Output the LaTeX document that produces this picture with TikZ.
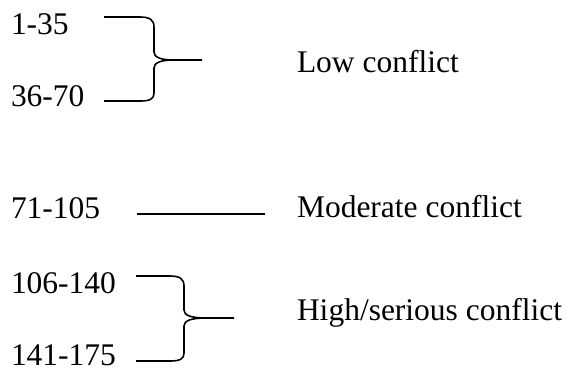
\documentclass[tikz,border=0pt]{standalone}
\usepackage{fontspec}
\setmainfont{Liberation Serif}
\begin{document}
\begin{tikzpicture}[x=1pt,y=-1pt,
  lbl/.style={anchor=base west,inner sep=0pt,outer sep=0pt,
    font=\fontsize{31.5}{36}\selectfont},
  bracket/.style={line width=1.6pt,line join=round,line cap=butt}]
\useasboundingbox (0,0) rectangle (571,368);

% range labels
\node[lbl] (r1) at (11,34)  {1-35};
\node[lbl] (r2) at (11,106) {36-70};
\node[lbl] (r3) at (11,218) {71-105};
\node[lbl] (r4) at (11,293) {106-140};
\node[lbl] (r5) at (11,365) {141-175};

% category labels
\node[lbl] (low)  at (297,72)  {Low conflict};
\node[lbl] (mod)  at (297,217) {Moderate conflict};
\node[lbl] (high) at (297,320) {High/serious conflict};

% first brace
\coordinate (b1a) at (104,17);
\coordinate (b1b) at (104,101);
\coordinate (b1t) at (202,60);
\draw[bracket] (b1a) -- (140,17) .. controls (150,17) and (154,20) .. (154,27)
  -- (154,52) .. controls (154,57) and (160,60) .. (174,60) -- (b1t);
\draw[bracket] (174,60) .. controls (160,60) and (154,63) .. (154,68)
  -- (154,93) .. controls (154,99) and (150,101) .. (140,101) -- (b1b);

% single line
\coordinate (m1) at (137,214);
\coordinate (m2) at (265,214);
\draw[bracket] (m1) -- (m2);

% second brace
\coordinate (b2a) at (136,276);
\coordinate (b2b) at (136,361);
\coordinate (b2t) at (234,318);
\draw[bracket] (b2a) -- (170,276) .. controls (180,276) and (184,279) .. (184,286)
  -- (184,310) .. controls (184,315) and (190,318) .. (206,318) -- (b2t);
\draw[bracket] (206,318) .. controls (190,318) and (184,321) .. (184,326)
  -- (184,353) .. controls (184,359) and (180,361) .. (170,361) -- (b2b);
\end{tikzpicture}
\end{document}
